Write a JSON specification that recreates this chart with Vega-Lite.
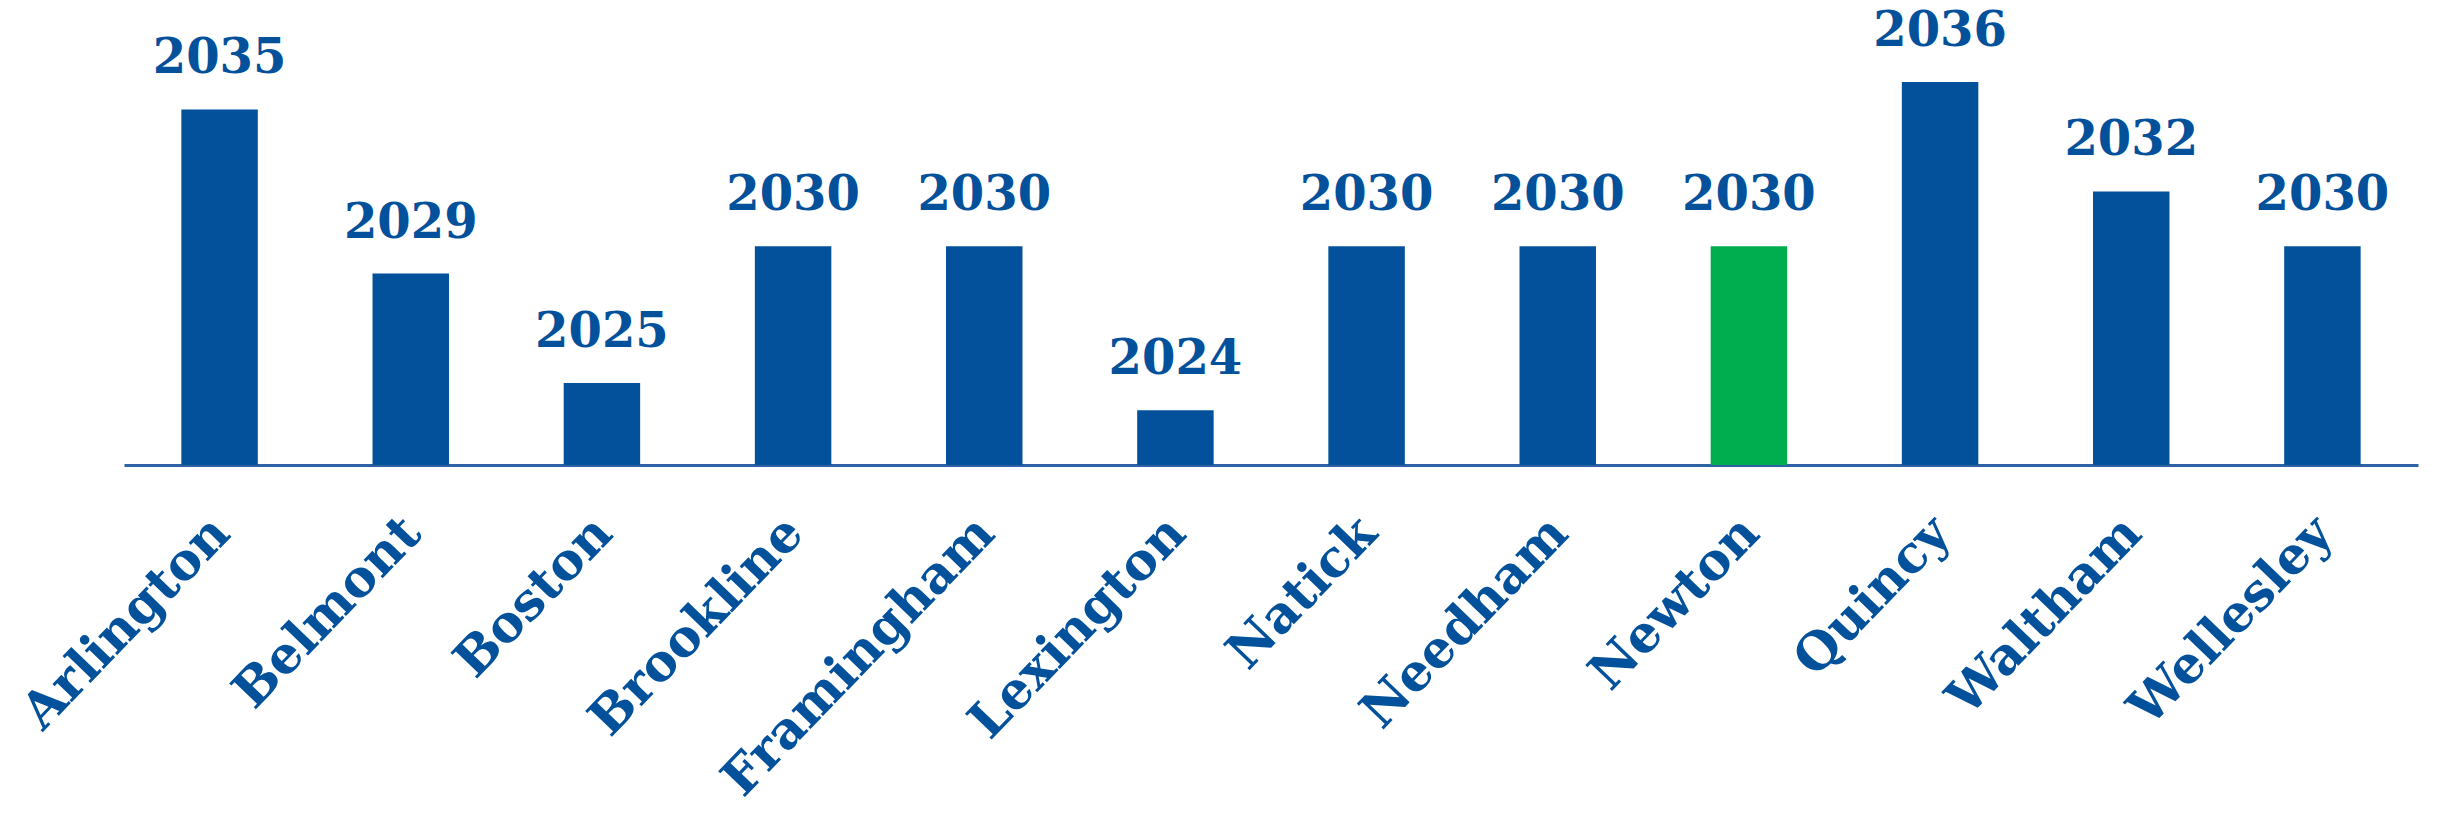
{
  "$schema": "https://vega.github.io/schema/vega-lite/v6.json",
  "width": 2294,
  "height": 465,
  "autosize": {"type": "none"},
  "padding": {"left": 124, "top": 0, "right": 19, "bottom": 351},
  "background": "white",
  "config": {"view": {"stroke": null}},
  "data": {
    "values": [
      {"town": "Arlington", "year": 2035, "highlight": "no"},
      {"town": "Belmont", "year": 2029, "highlight": "no"},
      {"town": "Boston", "year": 2025, "highlight": "no"},
      {"town": "Brookline", "year": 2030, "highlight": "no"},
      {"town": "Framingham", "year": 2030, "highlight": "no"},
      {"town": "Lexington", "year": 2024, "highlight": "no"},
      {"town": "Natick", "year": 2030, "highlight": "no"},
      {"town": "Needham", "year": 2030, "highlight": "no"},
      {"town": "Newton", "year": 2030, "highlight": "yes"},
      {"town": "Quincy", "year": 2036, "highlight": "no"},
      {"town": "Waltham", "year": 2032, "highlight": "no"},
      {"town": "Wellesley", "year": 2030, "highlight": "no"}
    ]
  },
  "encoding": {
    "x": {
      "field": "town",
      "type": "nominal",
      "sort": null,
      "scale": {"paddingInner": 0.6, "paddingOuter": 0.3},
      "axis": {
        "title": null,
        "labelAngle": -46,
        "labelAlign": "right",
        "labelBaseline": "middle",
        "labelFont": "DejaVu Serif",
        "labelFontWeight": "bold",
        "labelFontSize": 51,
        "labelColor": "#03519B",
        "labelPadding": 60,
        "labelOffset": 2,
        "labelOverlap": false,
        "labelBound": false,
        "labelLimit": 0,
        "ticks": false,
        "domainColor": "#2F62A5",
        "domainWidth": 3
      }
    }
  },
  "layer": [
    {
      "mark": {"type": "bar"},
      "encoding": {
        "y": {
          "field": "year",
          "type": "quantitative",
          "scale": {"domain": [2022, 2039], "zero": false, "nice": false},
          "axis": null
        },
        "y2": {"datum": 2022},
        "color": {
          "field": "highlight",
          "type": "nominal",
          "scale": {"domain": ["no", "yes"], "range": ["#03519B", "#00AD4F"]},
          "legend": null
        }
      }
    },
    {
      "mark": {
        "type": "text",
        "dy": -36,
        "baseline": "alphabetic",
        "font": "DejaVu Serif",
        "fontWeight": "bold",
        "fontSize": 48,
        "color": "#03519B"
      },
      "encoding": {
        "y": {"field": "year", "type": "quantitative"},
        "text": {"field": "year", "type": "quantitative", "format": "d"}
      }
    }
  ]
}
